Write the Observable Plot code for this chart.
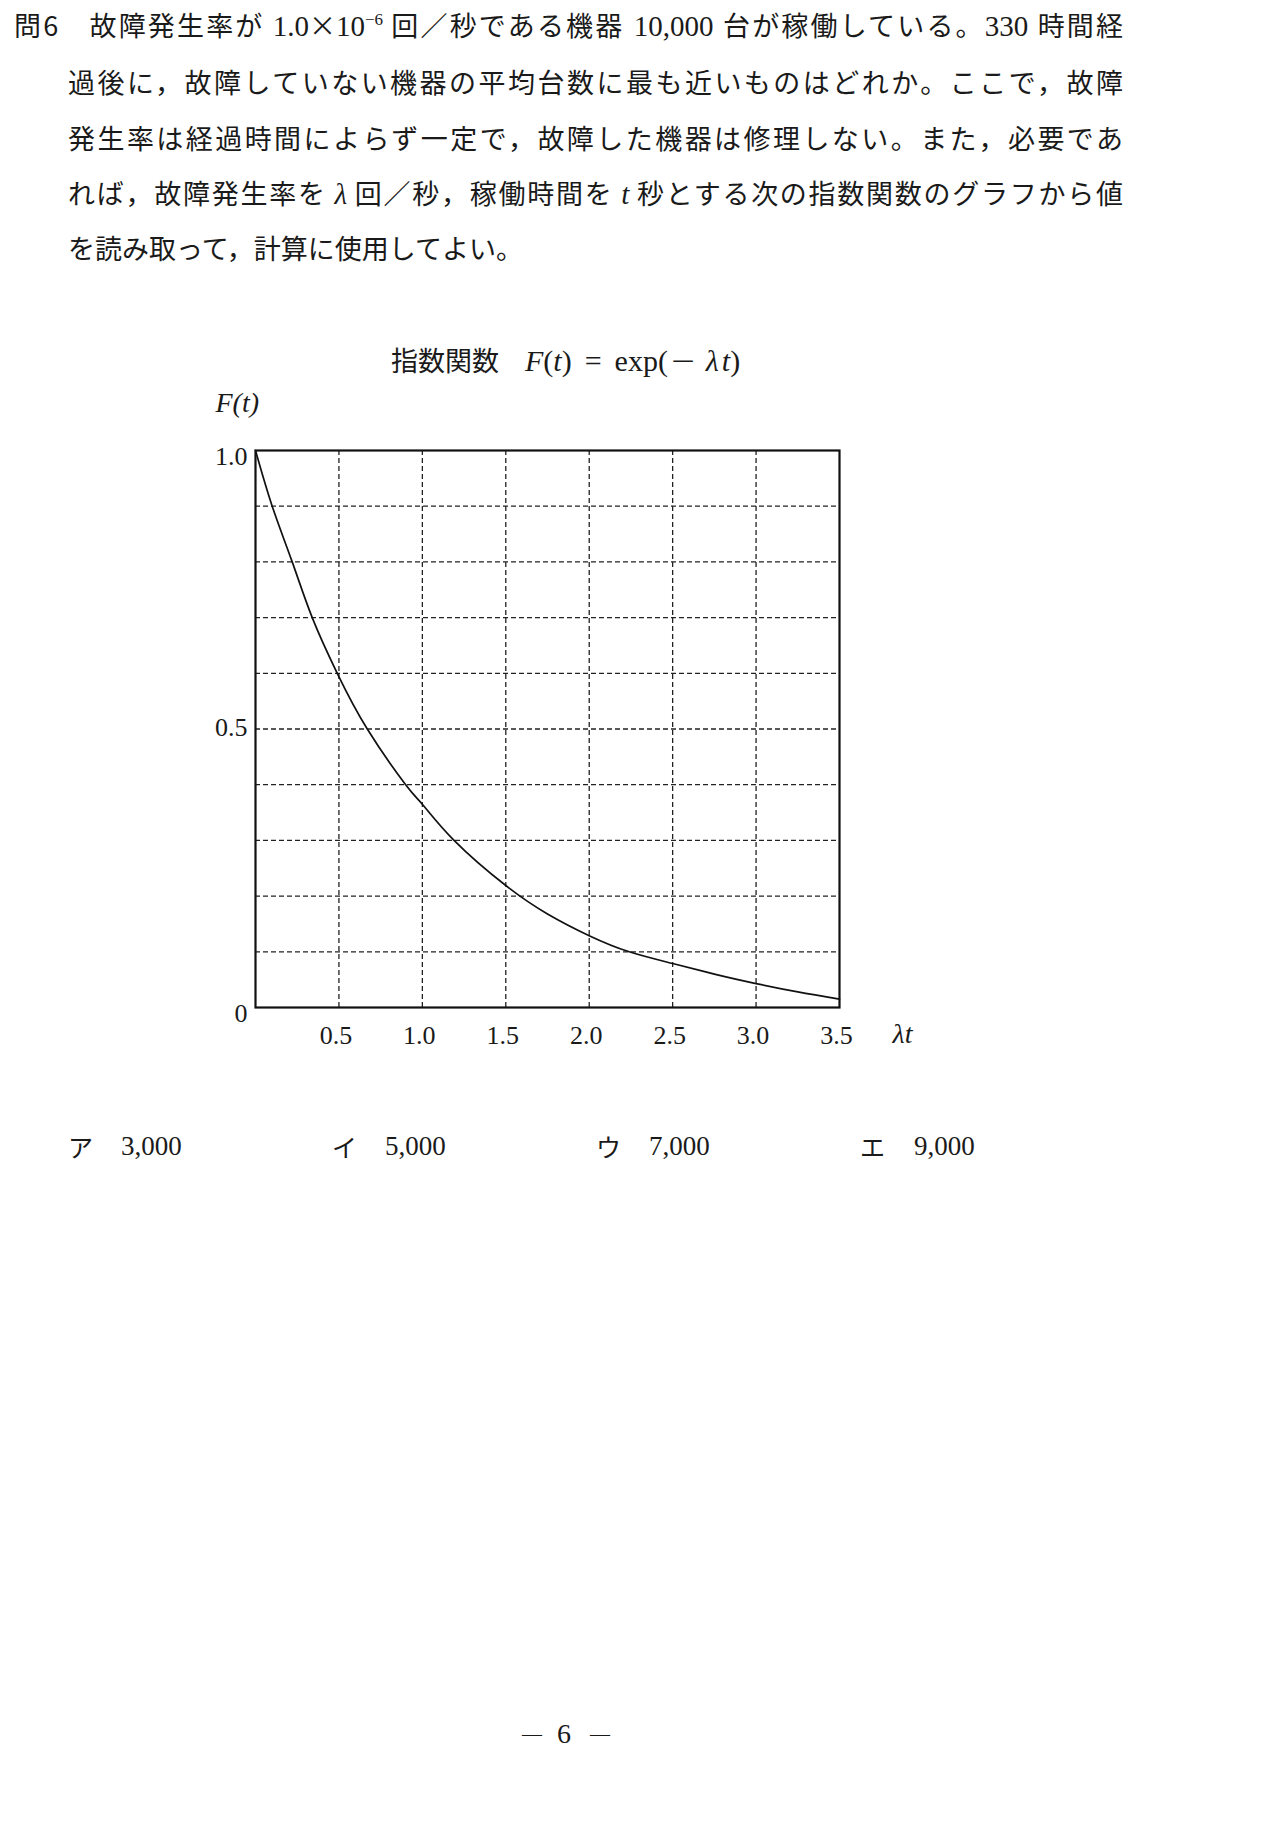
<!DOCTYPE html>
<html><head><meta charset="utf-8">
<script src="https://cdn.jsdelivr.net/npm/d3@7"></script>
<script src="https://cdn.jsdelivr.net/npm/@observablehq/plot@0.6"></script>
<style>
body{margin:0;background:#fff;}
#page{position:relative;width:1274px;height:1840px;background:#fff;color:#1a1a1a;font-family:"Noto Sans CJK JP",sans-serif;overflow:hidden}
.ln{position:absolute;font-size:27px;line-height:40px;}
.j{text-align:justify;text-align-last:justify;white-space:normal}
.s{font-family:"Liberation Serif",serif;font-size:29px}
.i{font-family:"Liberation Serif",serif;font-style:italic;font-size:29px}
.sup{font-family:"Liberation Serif",serif;font-size:17px;position:relative;top:-11px}
.abs{position:absolute;line-height:40px;white-space:nowrap}
.t{font-family:"Liberation Serif",serif;font-size:30px}
.ti{font-family:"Liberation Serif",serif;font-size:30px;font-style:italic}
#chart{position:absolute;left:0;top:380px}
</style></head>
<body>
<div id="page">
  <div class="ln j" style="left:14px;top:5px;width:1109px">問6　故障発生率が <span class="s">1.0</span>×<span class="s">10</span><span class="sup">−6</span> 回／秒である機器<span class="s"> 10,000 </span>台が稼働している。<span class="s">330 </span>時間経</div>
  <div class="ln j" style="left:68px;top:62px;width:1055px">過後に，故障していない機器の平均台数に最も近いものはどれか。ここで，故障</div>
  <div class="ln j" style="left:68px;top:118px;width:1055px">発生率は経過時間によらず一定で，故障した機器は修理しない。また，必要であ</div>
  <div class="ln j" style="left:68px;top:173px;width:1055px">れば，故障発生率を <span class="i">λ</span> 回／秒，稼働時間を <span class="i">t</span> 秒とする次の指数関数のグラフから値</div>
  <div class="ln" style="left:68px;top:228px;white-space:nowrap">を読み取って，計算に使用してよい。</div>

  <div class="abs" style="left:391px;top:340px;font-size:27px">指数関数<span class="ti" style="margin-left:26px">F</span><span class="t">(</span><span class="ti">t</span><span class="t">)</span><span class="t" style="margin-left:13px">=</span><span class="t" style="margin-left:13px">exp(</span><span class="t" style="margin-left:7px;display:inline-block;transform:scaleX(1.4)">−</span><span class="ti" style="margin-left:14px">λ</span><span class="ti" style="margin-left:3px">t</span><span class="t">)</span></div>

  <div id="chart"></div>

  <div class="abs" style="left:68px;top:1126px;font-size:25px">ア</div>
  <div class="abs s" style="left:121px;top:1126px;font-size:27px">3,000</div>
  <div class="abs" style="left:332px;top:1126px;font-size:25px">イ</div>
  <div class="abs s" style="left:385px;top:1126px;font-size:27px">5,000</div>
  <div class="abs" style="left:596px;top:1126px;font-size:25px">ウ</div>
  <div class="abs s" style="left:649px;top:1126px;font-size:27px">7,000</div>
  <div class="abs" style="left:860px;top:1126px;font-size:25px">エ</div>
  <div class="abs s" style="left:914px;top:1126px;font-size:27px">9,000</div>

  <div class="abs s" style="left:522px;top:1714px;font-size:20px">—</div>
  <div class="abs s" style="left:557px;top:1714px;font-size:28px">6</div>
  <div class="abs s" style="left:590px;top:1714px;font-size:20px">—</div>
</div>
<script>
// curve points
const lambdaT = [0, 0.1, 0.22, 0.34, 0.49, 0.67, 0.9, 1.0, 1.19, 1.5, 1.75, 2.0, 2.24, 2.5, 2.75, 3.0, 3.25, 3.5];
const fValues = [1.0, 0.9, 0.8, 0.7, 0.6, 0.5, 0.4, 0.365, 0.3, 0.219, 0.168, 0.129, 0.1, 0.079, 0.06, 0.043, 0.028, 0.015];
const xTicks = [0.5, 1.0, 1.5, 2.0, 2.5, 3.0, 3.5];
const xTickLabels = ["0.5", "1.0", "1.5", "2.0", "2.5", "3.0", "3.5"];
const yTicksEnds = [0, 1.0];
const yTicksMid = [0.5];
const yTickLabels = {"0": "0", "0.5": "0.5", "1": "1.0"};
const xGrid = [0.5, 1.0, 1.5, 2.0, 2.5, 3.0];
const yGrid = [0.1, 0.2, 0.3, 0.4, 0.5, 0.6, 0.7, 0.8, 0.9];

const points = lambdaT.map((x, i) => ({x, f: fValues[i]}));
const gridStyle = {stroke: "#222", strokeOpacity: 1, strokeWidth: 1.3, strokeDasharray: "5,3"};
const yAxisStyle = {tickSize: 0, tickPadding: 8, tickFormat: d => yTickLabels[String(d)], label: null, fontSize: 26};

const chart = Plot.plot({
  width: 1274, height: 720,
  marginLeft: 255, marginRight: 435, marginTop: 70, marginBottom: 93,
  x: {domain: [0, 3.5]},
  y: {domain: [0, 1]},
  style: {fontFamily: "Liberation Serif, serif", fontSize: "26px", color: "#1a1a1a", background: "transparent"},
  marks: [
    Plot.gridX(xGrid, gridStyle),
    Plot.gridY(yGrid, gridStyle),
    Plot.line(points, {x: "x", y: "f", curve: "natural", stroke: "#111", strokeWidth: 1.7}),
    Plot.frame({stroke: "#111", strokeWidth: 2.2}),
    Plot.axisX(xTicks, {tickSize: 0, tickPadding: 18, tickFormat: d => xTickLabels[xTicks.indexOf(d)], label: null, fontSize: 26, dx: -3}),
    Plot.axisY(yTicksEnds, {...yAxisStyle, dy: 6}),
    Plot.axisY(yTicksMid, {...yAxisStyle, dy: -1}),
    Plot.text(["F(t)"], {frameAnchor: "top-left", dx: -40, dy: -58, fontStyle: "italic", fontSize: 28}),
    Plot.text(["λt"], {frameAnchor: "bottom-right", dx: 73, dy: 35, fontStyle: "italic", fontSize: 28})
  ]
});
document.getElementById("chart").appendChild(chart);
</script>
</body></html>
